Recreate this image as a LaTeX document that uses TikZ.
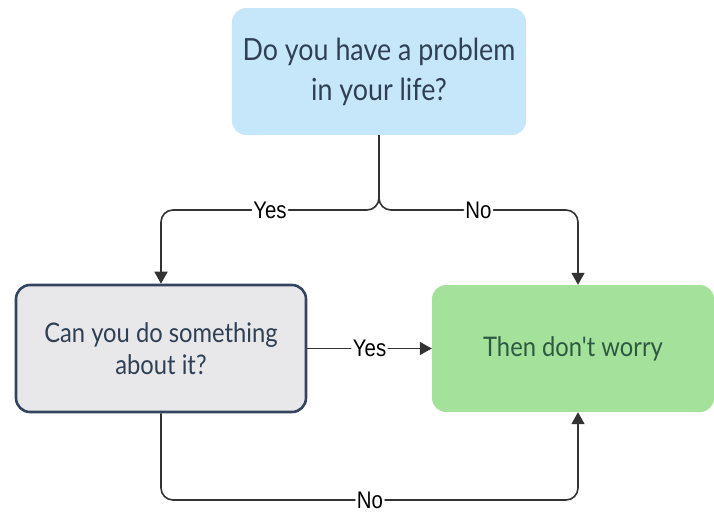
\documentclass[tikz,border=0pt]{standalone}
\usepackage{fontspec}
\newfontfamily\boxfont{Lato}[FakeStretch=0.88, Ligatures=TeXOff]
\newfontfamily\tagfont{Liberation Sans}[FakeStretch=0.85]
\usetikzlibrary{arrows.meta}
\usepackage{xcolor}
\definecolor{askblue}{HTML}{C6E7FA}
\definecolor{askgray}{HTML}{E8E8EA}
\definecolor{asknavy}{HTML}{34445E}
\definecolor{okgreen}{HTML}{A4E29B}
\definecolor{inkdark}{HTML}{2F4054}
\definecolor{inkgreen}{HTML}{2C5A40}
\definecolor{wire}{HTML}{333333}

\tikzset{
 box/.style={rectangle, rounded corners=14pt, align=center, text=inkdark,
   font=\boxfont\fontsize{27}{32}\selectfont, minimum height=127pt},
 wire/.style={draw=wire, line width=1.6pt, rounded corners=12pt,
   -{Triangle[length=12pt,width=13pt]}},
 tag/.style={fill=white, inner sep=1.5pt, text=black, font=\tagfont\fontsize{24}{26}\selectfont}
}

\begin{document}
\begin{tikzpicture}[x=1pt,y=-1pt]
\useasboundingbox (0,0) rectangle (714,512);
\node[box, fill=askblue, minimum width=294pt, font=\boxfont\fontsize{30.5}{40}\selectfont] (problem) at (379,71.5) {Do you have a problem\\in your life?};
\node[box, fill=askgray, draw=asknavy, line width=2.6pt, minimum width=290pt] (cando) at (161,348.5) {Can you do something\\about it?};
\node[box, fill=okgreen, text=inkgreen, minimum width=282pt] (worry) at (573,348.5) {Then don't worry};
\coordinate (split) at (379,210);
\coordinate (under) at (370,500);
% branches out of the question
\draw[wire] (problem.south) -- (split) -| (cando.north) node[tag, pos=.25] {Yes};
\draw[wire] (problem.south) -- (split) -| ([xshift=5pt]worry.north) node[tag, pos=.25] {No};
\draw[wire] (cando.east) -- (worry.west) node[tag, midway] {Yes};
\draw[wire] (cando.south) |- (under) node[tag] {No} -| ([xshift=5pt]worry.south);
\end{tikzpicture}
\end{document}
